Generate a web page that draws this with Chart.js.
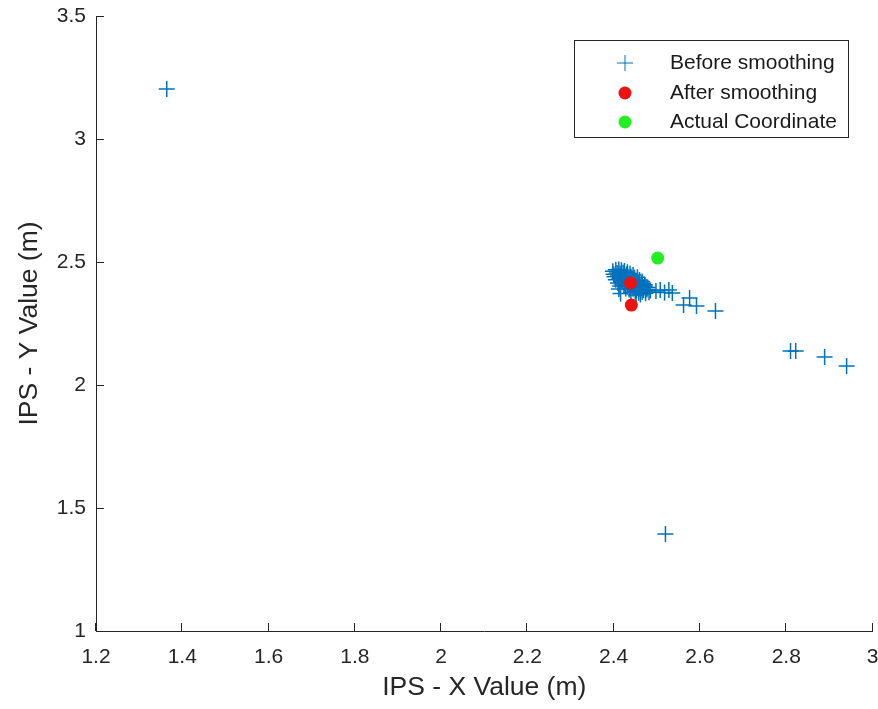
<!DOCTYPE html>
<html>
<head>
<meta charset="utf-8">
<script src="https://cdn.jsdelivr.net/npm/chart.js@4.4.1/dist/chart.umd.min.js"></script>
<style>
  html, body { margin: 0; padding: 0; background: #fff; overflow: hidden; }
</style>
</head>
<body>
<!-- a little wider than the window: the last x label's auto padding falls off-screen -->
<canvas id="chart" width="882" height="709"></canvas>
<script>
'use strict';

// Raw IPS readings (x, y) in metres
const beforeSmoothing = [
  [2.398, 2.462], [2.405, 2.468], [2.412, 2.470], [2.418, 2.466], [2.425, 2.463], [2.432, 2.458],
  [2.400, 2.450], [2.408, 2.455], [2.415, 2.452], [2.422, 2.456], [2.430, 2.449], [2.438, 2.452], [2.445, 2.447],
  [2.402, 2.440], [2.410, 2.443], [2.418, 2.438], [2.425, 2.442], [2.433, 2.437], [2.440, 2.441], [2.448, 2.436], [2.455, 2.438],
  [2.405, 2.428], [2.412, 2.431], [2.420, 2.426], [2.428, 2.430], [2.436, 2.425], [2.444, 2.429], [2.452, 2.424], [2.460, 2.427], [2.466, 2.421],
  [2.410, 2.415], [2.418, 2.419], [2.426, 2.414], [2.434, 2.418], [2.442, 2.412], [2.450, 2.416], [2.458, 2.411], [2.466, 2.414], [2.472, 2.408],
  [2.415, 2.402], [2.424, 2.406], [2.432, 2.400], [2.440, 2.404], [2.448, 2.399], [2.456, 2.403], [2.464, 2.398], [2.472, 2.401], [2.479, 2.396],
  [2.412, 2.390], [2.428, 2.392], [2.436, 2.388], [2.445, 2.391], [2.453, 2.386], [2.461, 2.390], [2.469, 2.385], [2.477, 2.388], [2.485, 2.384],
  [2.440, 2.377], [2.450, 2.380], [2.458, 2.375], [2.466, 2.378], [2.474, 2.373], [2.482, 2.377],
  [2.416, 2.372], [2.452, 2.366], [2.462, 2.368],
  [2.498, 2.382], [2.508, 2.386], [2.518, 2.376], [2.528, 2.386], [2.536, 2.374],
  [2.562, 2.325], [2.576, 2.354], [2.592, 2.321], [2.636, 2.301],
  [2.810, 2.138], [2.822, 2.138], [2.889, 2.114], [2.940, 2.077],
  [1.364, 3.203], [2.520, 1.394],
];
const afterSmoothing   = [[2.439, 2.415], [2.441, 2.325]];
const actualCoordinate = [[2.502, 2.516]];

const xTicks = [1.2, 1.4, 1.6, 1.8, 2, 2.2, 2.4, 2.6, 2.8, 3];
const yTicks = [1, 1.5, 2, 2.5, 3, 3.5];
const seriesLabels = ['Before smoothing', 'After smoothing', 'Actual Coordinate'];

const AXIS_COLOR = '#262626';
const FONT = 'Liberation Sans, Arial, Helvetica, sans-serif';

const toPoints = (arr) => arr.map(([x, y]) => ({ x, y }));
const tickLabel = (v) => String(+Number(v).toFixed(2));

/** MATLAB style ticks pointing into the axes */
const innerTicks = {
  id: 'innerTicks',
  afterDraw(chart) {
    const { ctx, chartArea, scales } = chart;
    ctx.save();
    ctx.strokeStyle = AXIS_COLOR;
    ctx.lineWidth = 1;
    ctx.beginPath();
    xTicks.forEach((v) => {
      const px = Math.round(scales.x.getPixelForValue(v)) - 0.5;
      ctx.moveTo(px, chartArea.bottom);
      ctx.lineTo(px, chartArea.bottom - 8);
    });
    yTicks.forEach((v) => {
      const py = Math.round(scales.y.getPixelForValue(v)) + 0.5;
      ctx.moveTo(chartArea.left, py);
      ctx.lineTo(chartArea.left + 8, py);
    });
    ctx.stroke();
    ctx.restore();
  },
};

/** Boxed legend inside the top-right corner */
const boxLegend = {
  id: 'boxLegend',
  afterDraw(chart) {
    const { ctx } = chart;
    const box = { x: 574.5, y: 40.5, w: 274, h: 97 };
    ctx.save();
    ctx.fillStyle = '#fff';
    ctx.fillRect(box.x, box.y, box.w, box.h);
    ctx.strokeStyle = AXIS_COLOR;
    ctx.lineWidth = 1;
    ctx.strokeRect(box.x, box.y, box.w, box.h);

    const rows = [63, 93, 122];
    chart.data.datasets.forEach((ds, i) => {
      const y = rows[i];
      ctx.fillStyle = ds.backgroundColor;
      ctx.strokeStyle = ds.borderColor;
      Chart.helpers.drawPoint(ctx, {
        pointStyle: ds.pointStyle,
        radius: ds.pointRadius,
        borderWidth: ds.borderWidth,
        rotation: 0,
      }, 625, y);
      ctx.fillStyle = '#1a1a1a';
      ctx.font = `21px ${FONT}`;
      ctx.textBaseline = 'middle';
      ctx.textAlign = 'left';
      ctx.fillText(ds.label, 670, y);
    });
    ctx.restore();
  },
};

const axisBase = {
  type: 'linear',
  grid: { display: true, drawOnChartArea: false, drawTicks: false },
  border: { display: true, color: AXIS_COLOR, width: 1 },
  ticks: {
    color: AXIS_COLOR,
    font: { family: FONT, size: 21 },
    callback: tickLabel,
  },
};

new Chart(document.getElementById('chart'), {
  type: 'scatter',
  data: {
    datasets: [
      {
        label: seriesLabels[0],
        data: toPoints(beforeSmoothing),
        pointStyle: 'cross',
        pointRadius: 8,
        borderWidth: 1.5,
        borderColor: '#0072BD',
        backgroundColor: '#0072BD',
        order: 3,
      },
      {
        label: seriesLabels[1],
        data: toPoints(afterSmoothing),
        pointStyle: 'circle',
        pointRadius: 6.5,
        borderWidth: 0,
        borderColor: '#ee1111',
        backgroundColor: '#ee1111',
        order: 2,
      },
      {
        label: seriesLabels[2],
        data: toPoints(actualCoordinate),
        pointStyle: 'circle',
        pointRadius: 6.5,
        borderWidth: 0,
        borderColor: '#22ee22',
        backgroundColor: '#22ee22',
        order: 1,
      },
    ],
  },
  options: {
    responsive: false,
    animation: false,
    events: [],
    layout: { padding: { top: 16, right: 0, left: 0, bottom: 0 } },
    plugins: { legend: { display: false }, tooltip: { enabled: false } },
    scales: {
      x: {
        ...axisBase,
        min: 1.2,
        max: 3,
        afterBuildTicks: (s) => { s.ticks = xTicks.map((v) => ({ value: v })); },
        afterFit: (s) => { s.height = 78; s.paddingLeft = 0; s.paddingRight = 0; },
        ticks: { ...axisBase.ticks, padding: 14, maxRotation: 0 },
        title: {
          display: true,
          text: 'IPS - X Value (m)',
          color: AXIS_COLOR,
          font: { family: FONT, size: 26.5 },
          padding: { top: 0, bottom: 5 },
        },
      },
      y: {
        ...axisBase,
        min: 1,
        max: 3.5,
        afterBuildTicks: (s) => { s.ticks = yTicks.map((v) => ({ value: v })); },
        afterFit: (s) => { s.width = 96; s.paddingTop = 0; s.paddingBottom = 0; },
        ticks: { ...axisBase.ticks, padding: 10 },
        title: {
          display: true,
          text: 'IPS - Y Value (m)',
          color: AXIS_COLOR,
          font: { family: FONT, size: 26.5 },
          padding: { top: 14, bottom: 0 },
        },
      },
    },
  },
  plugins: [innerTicks, boxLegend],
});
</script>
</body>
</html>
